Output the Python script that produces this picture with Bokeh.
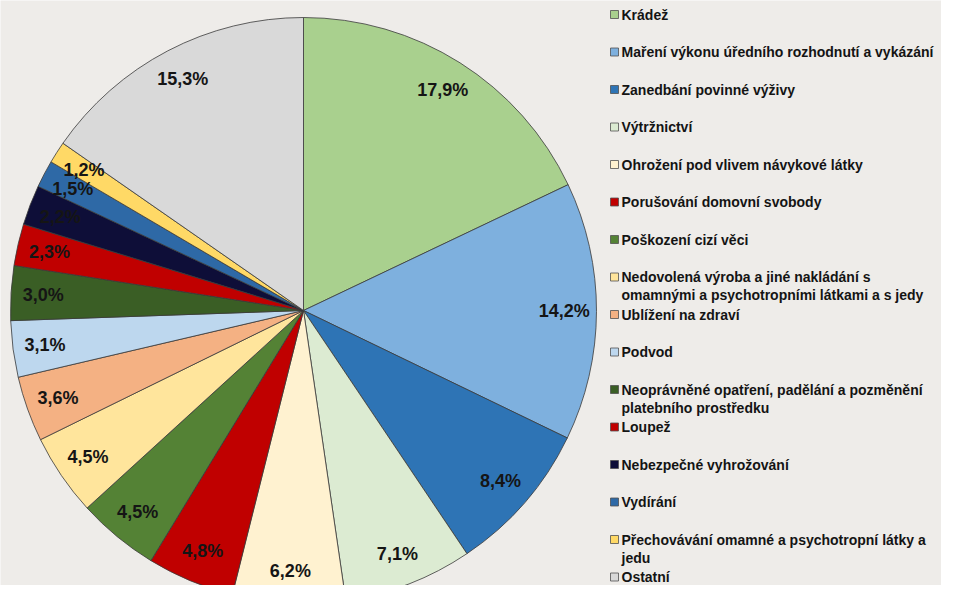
import numpy as np
from bokeh.plotting import figure
from bokeh.models import Range1d, ColumnDataSource
from bokeh.core.properties import value
from bokeh.embed import file_html
from bokeh.resources import INLINE

# ---- data ----
categories = [
    "Krádež",
    "Maření výkonu úředního rozhodnutí a vykázání",
    "Zanedbání povinné výživy",
    "Výtržnictví",
    "Ohrožení pod vlivem návykové látky",
    "Porušování domovní svobody",
    "Poškození cizí věci",
    "Nedovolená výroba a jiné nakládání s\nomamnými a psychotropními látkami a s jedy",
    "Ublížení na zdraví",
    "Podvod",
    "Neoprávněné opatření, padělání a pozměnění\nplatebního prostředku",
    "Loupež",
    "Nebezpečné vyhrožování",
    "Vydírání",
    "Přechovávání omamné a psychotropní látky a\njedu",
    "Ostatní",
]
shares = [17.9, 14.2, 8.4, 7.1, 6.2, 4.8, 4.5, 4.5, 3.6, 3.1, 3.0, 2.3, 2.2, 1.5, 1.2, 15.3]
colors = ["#a9d08e", "#7eb0de", "#2e74b5", "#dcebd2", "#fff2d0", "#c00000",
          "#548235", "#ffe59c", "#f4b183", "#bdd7ee", "#3a5e25", "#c00000",
          "#0e0e38", "#2e69a6", "#ffd966", "#d9d9d9"]

# ---- layout (pixels) ----
W, H = 941, 585
BG = "#eeece9"
cx, cy, R = 303, 275, 293
label_r = 0.89 * R
font = "Liberation Sans"

p = figure(width=W, height=H, x_range=Range1d(0, W), y_range=Range1d(0, H),
           output_backend="svg", toolbar_location=None, min_border=0,
           x_axis_location=None, y_axis_location=None)
p.grid.visible = False
p.outline_line_color = None
p.background_fill_color = BG
p.border_fill_color = BG

vals = np.array(shares, dtype=float)
frac = vals / vals.sum()
cum_end = np.cumsum(frac)
cum_start = cum_end - frac
start_angle = np.pi / 2 - 2 * np.pi * cum_end
end_angle = np.pi / 2 - 2 * np.pi * cum_start
mid = (start_angle + end_angle) / 2

src = ColumnDataSource(dict(
    start=start_angle, end=end_angle, color=colors, cat=categories,
))
p.wedge(x=cx, y=cy, radius=R, start_angle="start", end_angle="end",
        fill_color="color", line_color="#3a3a3a", line_width=0.8, source=src)

pct_labels = [("%.1f%%" % v).replace(".", ",") for v in shares]
lsrc = ColumnDataSource(dict(
    x=cx + label_r * np.cos(mid), y=cy + label_r * np.sin(mid), t=pct_labels,
))
p.text(x="x", y="y", text="t", source=lsrc, text_align="center",
       text_baseline="middle", text_font=value(font), text_font_style="bold",
       text_font_size="18px", text_color="#151515")

# ---- legend (manual) ----
leg_x = 614
leg_top = H - 14
step = 37.5
line_h = 18
sq_x, sq_y, tx, ty, tt = [], [], [], [], []
for i, cat in enumerate(categories):
    y0 = leg_top - i * step
    sq_x.append(leg_x)
    sq_y.append(y0)
    for j, line in enumerate(cat.split("\n")):
        tx.append(leg_x + 7)
        ty.append(y0 - j * line_h)
        tt.append(line)

p.rect(x=sq_x, y=sq_y, width=8, height=8, fill_color=colors,
       line_color="#505050", line_width=0.8)
p.text(x=tx, y=ty, text=tt, text_align="left", text_baseline="middle",
       text_font=value(font), text_font_style="bold", text_font_size="14px",
       text_color="#141414")

open("out.html", "w").write(file_html(p, INLINE))
